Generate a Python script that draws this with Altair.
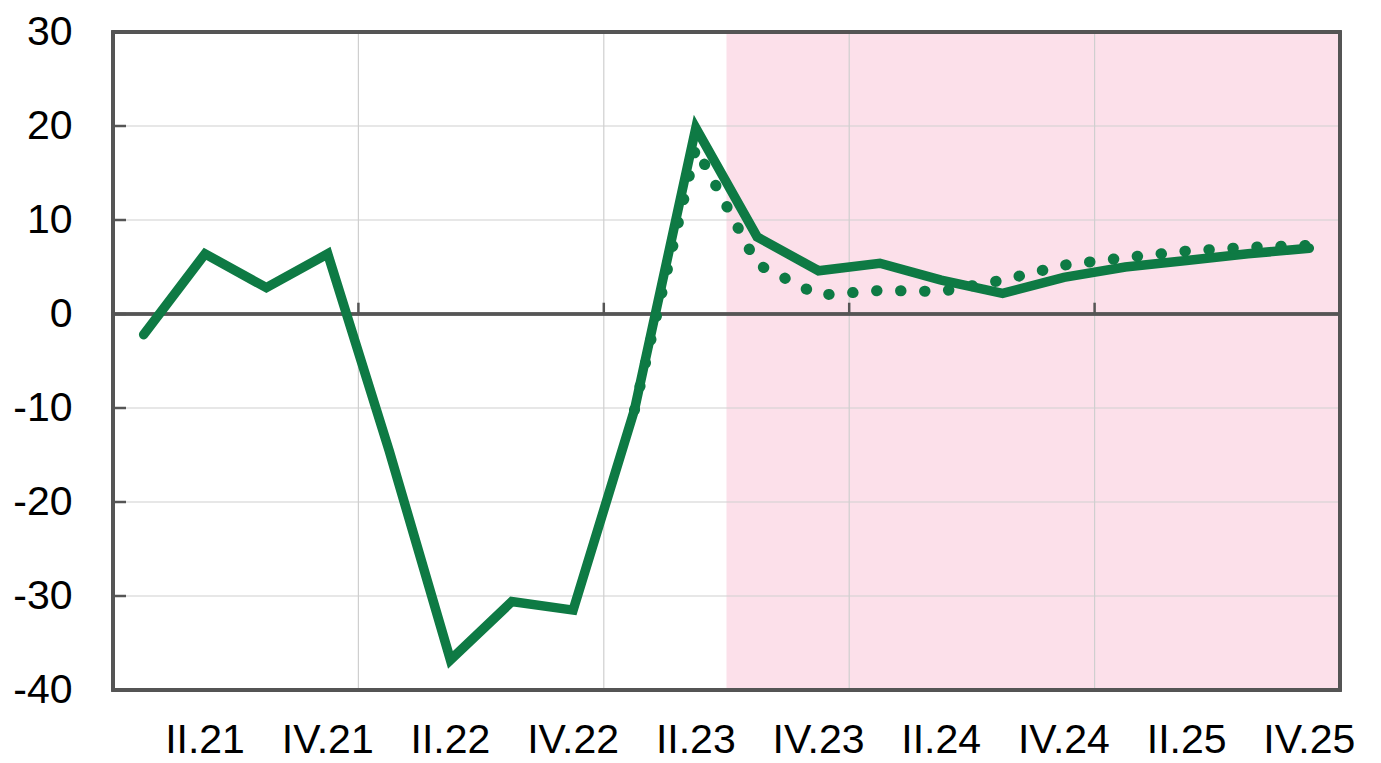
import altair as alt
import pandas as pd

quarters = ["I.21", "II.21", "III.21", "IV.21",
            "I.22", "II.22", "III.22", "IV.22",
            "I.23", "II.23", "III.23", "IV.23",
            "I.24", "II.24", "III.24", "IV.24",
            "I.25", "II.25", "III.25", "IV.25"]
solid = [-2.2, 6.4, 2.8, 6.4, -14.5, -36.8, -30.6, -31.5, -10.2, 19.8,
         8.2, 4.6, 5.4, 3.6, 2.2, 3.9, 5.0, 5.7, 6.4, 7.0]
dotted = [None, None, None, None, None, None, None, None, -10.2, 17.7,
          5.3, 2.0, 2.5, 2.4, 3.6, 5.2, 6.0, 6.7, 7.1, 7.3]
shade_start = ["III.23"]
year_starts = ["I.22", "I.23", "I.24", "I.25"]
label_quarters = ["II.21", "IV.21", "II.22", "IV.22", "II.23",
                  "IV.23", "II.24", "IV.24", "II.25", "IV.25"]
y_ticks = [-40, -30, -20, -10, 0, 10, 20, 30]

W, H = 1227, 658
GREEN = "#0e7a44"
PINK = "#fce0ea"
FRAME = "#555555"
GRID = "#cfcfcf"
FONT = "Liberation Sans"

x_scale = alt.Scale(type="band", domain=quarters, paddingInner=0, paddingOuter=0)
y_scale = alt.Scale(domain=[-40, 30], nice=False, zero=False)

x_axis = alt.Axis(values=label_quarters, title=None, ticks=False, tickSize=0,
                  domain=False, grid=False, labelFont=FONT, labelFontSize=41,
                  labelColor="#000000", labelPadding=30, labelAngle=0)
y_axis = alt.Axis(values=y_ticks, title=None, ticks=False, tickSize=0,
                  domain=False, grid=False, labelFont=FONT, labelFontSize=41,
                  labelColor="#000000", labelPadding=41,
                  labelExpr="'' + datum.value")

df = pd.DataFrame({"q": quarters, "solid": solid, "dotted": dotted})
shade_df = pd.DataFrame({"q": shade_start})
years_df = pd.DataFrame({"q": year_starts})
yt_df = pd.DataFrame({"v": y_ticks})

shade = alt.Chart(shade_df).mark_rect(color=PINK).encode(
    x=alt.X("q:N", scale=x_scale, axis=x_axis, bandPosition=0),
    x2=alt.value("width"),
    y=alt.value(0),
    y2=alt.value("height"),
)

vgrid = alt.Chart(years_df).mark_rule(color=GRID, strokeWidth=1.2).encode(
    x=alt.X("q:N", scale=x_scale, axis=x_axis, bandPosition=0),
)

hgrid = alt.Chart(yt_df).mark_rule(color=GRID, strokeWidth=1.2).encode(
    y=alt.Y("v:Q", scale=y_scale, axis=y_axis),
)

yticks = alt.Chart(yt_df).mark_rule(color=FRAME, strokeWidth=2.5).encode(
    y=alt.Y("v:Q", scale=y_scale, axis=y_axis),
    x=alt.value(0),
    x2=alt.value(13),
)

zero = alt.Chart(yt_df).mark_rule(color=FRAME, strokeWidth=2.5).encode(
    y=alt.YDatum(0, scale=y_scale, axis=y_axis),
)

year_ticks = alt.Chart(years_df).mark_rule(color=FRAME, strokeWidth=2.5).encode(
    x=alt.X("q:N", scale=x_scale, axis=x_axis, bandPosition=0),
    y=alt.YDatum(0, scale=y_scale, axis=y_axis),
    y2=alt.Y2Datum(1.2),
)

line_solid = alt.Chart(df).mark_line(
    color=GREEN, strokeWidth=9.5, strokeCap="round", strokeJoin="miter"
).encode(
    x=alt.X("q:N", scale=x_scale, axis=x_axis, bandPosition=0.5, sort=quarters),
    y=alt.Y("solid:Q", scale=y_scale, axis=y_axis),
)

line_dotted = alt.Chart(df).mark_line(
    color=GREEN, strokeWidth=11, strokeCap="round", strokeDash=[0.5, 23.5]
).encode(
    x=alt.X("q:N", scale=x_scale, axis=x_axis, bandPosition=0.5, sort=quarters),
    y=alt.Y("dotted:Q", scale=y_scale, axis=y_axis),
)

frame = alt.Chart(yt_df).mark_rect(fill=None, fillOpacity=0, stroke=FRAME, strokeWidth=3).encode(
    x=alt.value(0),
    x2=alt.value("width"),
    y=alt.value(0),
    y2=alt.value("height"),
)

chart = alt.layer(
    shade, vgrid, hgrid, zero, year_ticks, yticks, line_solid, line_dotted, frame
).properties(
    width=W,
    height=H,
    autosize=alt.AutoSizeParams(type="none"),
    padding={"left": 105, "top": 24, "right": 30, "bottom": 72},
    background="white",
).configure_view(strokeWidth=0)

chart.save("out.html", embed_options={"renderer": "svg", "actions": False})
